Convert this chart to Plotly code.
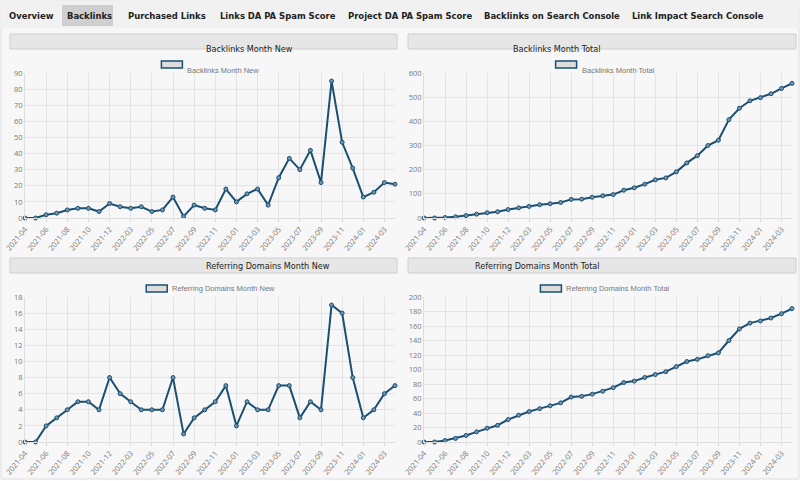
import plotly.graph_objects as go

months = ["2021-04", "2021-05", "2021-06", "2021-07", "2021-08", "2021-09", "2021-10", "2021-11", "2021-12",
          "2022-02", "2022-03", "2022-04", "2022-05", "2022-06", "2022-07", "2022-08", "2022-09", "2022-10",
          "2022-11", "2022-12", "2023-01", "2023-02", "2023-03", "2023-04", "2023-05", "2023-06", "2023-07",
          "2023-08", "2023-09", "2023-10", "2023-11", "2023-12", "2024-01", "2024-02", "2024-03", "2024-04"]
backlinks_new = [0, 0, 2, 3, 5, 6, 6, 4, 9, 7, 6, 7, 4, 5, 13, 1, 8, 6, 5, 18, 10, 15, 18, 8, 25, 37, 30, 42,
                 22, 85, 47, 31, 13, 16, 22, 21]
backlinks_total = [0, 0, 2, 5, 10, 16, 22, 26, 35, 42, 48, 55, 59, 64, 77, 78, 86, 92, 97, 115, 125, 140, 158,
                   166, 191, 228, 258, 300, 322, 407, 454, 485, 498, 514, 536, 557]
domains_new = [0, 0, 2, 3, 4, 5, 5, 4, 8, 6, 5, 4, 4, 4, 8, 1, 3, 4, 5, 7, 2, 5, 4, 4, 7, 7, 3, 5, 4, 17, 16,
               8, 3, 4, 6, 7]
domains_total = [0, 0, 2, 5, 9, 14, 19, 23, 31, 37, 42, 46, 50, 54, 62, 63, 66, 70, 75, 82, 84, 89, 93, 97,
                 104, 111, 114, 119, 123, 140, 156, 164, 167, 171, 177, 184]
tabs = ["Overview", "Backlinks", "Purchased Links", "Links DA PA Spam Score", "Project DA PA Spam Score",
        "Backlinks on Search Console", "Link Impact Search Console"]

W, H = 800, 481
def px(x): return x / W
def py(y): return 1 - y / H

LINE = "#1b4f72"
TABFONT = "DejaVu Sans Condensed, Roboto"
panels = [
    ("Backlinks Month New", backlinks_new, [0, 90], 10, (25, 395), (73, 218), (10, 397), 34),
    ("Backlinks Month Total", backlinks_total, [0, 600], 100, (424, 792), (73, 218), (408, 796), 34),
    ("Referring Domains Month New", domains_new, [0, 18], 2, (25, 395), (297, 442), (10, 397), 258),
    ("Referring Domains Month Total", domains_total, [0, 200], 20, (424, 792), (297, 442), (408, 796), 258),
]

fig = go.Figure()
shapes, annos = [], []
# outer frame
shapes.append(dict(type="rect", xref="paper", yref="paper", x0=px(1), x1=px(799), y0=py(479), y1=py(1),
                   fillcolor="#f7f7f7", line=dict(color="#dcdcdc", width=1), layer="below"))
shapes.append(dict(type="rect", xref="paper", yref="paper", x0=px(1), x1=px(799), y0=py(28), y1=py(1),
                   fillcolor="#f1f1f1", line=dict(width=0), layer="below"))
# tabs
tab_x = [7, 65, 126, 218, 346, 482, 630]
for t, tx in zip(tabs, tab_x):
    if t == "Backlinks":
        shapes.append(dict(type="rect", xref="paper", yref="paper", x0=px(62), x1=px(113), y0=py(26), y1=py(5),
                           fillcolor="#cfcfcf", line=dict(width=0), layer="below"))
    annos.append(dict(x=px(tx), y=py(15), xref="paper", yref="paper", text="<b>" + t + "</b>", showarrow=False,
                      xanchor="left", yanchor="middle", font=dict(family=TABFONT, size=9.4, color="#222")))

for k, (title, vals, rng, dt, (x0, x1), (y0, y1), (bx0, bx1), by) in enumerate(panels):
    n = k + 1
    xa, ya = ("xaxis" if n == 1 else f"xaxis{n}"), ("yaxis" if n == 1 else f"yaxis{n}")
    xr, yr = ("x" if n == 1 else f"x{n}"), ("y" if n == 1 else f"y{n}")
    fig.add_trace(go.Scatter(x=months, y=vals, mode="lines+markers", xaxis=xr, yaxis=yr, showlegend=False,
                             cliponaxis=False, line=dict(color=LINE, width=2),
                             marker=dict(size=4, color="#6f95b3", line=dict(color=LINE, width=1))))
    fig.layout[xa] = dict(domain=[px(x0), px(x1)], anchor=yr, type="category", tickangle=-50,
                          range=[0, len(months) - 1], automargin=False,
                          tickvals=[m for i, m in enumerate(months) if i % 2 == 0],
                          showgrid=True, gridcolor="#e4e4e4", tickfont=dict(size=7.5, color="#777"),
                          linecolor="#ddd", ticks="outside", ticklen=3, tickcolor="#ddd")
    fig.layout[ya] = dict(domain=[py(y1), py(y0)], anchor=xr, range=rng, dtick=dt, gridcolor="#e4e4e4",
                          automargin=False,
                          tickfont=dict(size=7.5, color="#777"), zeroline=False, linecolor="#ddd", showline=True)
    # title bar
    shapes.append(dict(type="rect", xref="paper", yref="paper", x0=px(bx0), x1=px(bx1), y0=py(by + 15), y1=py(by),
                       fillcolor="#e6e6e6", line=dict(color="#d0d0d0", width=1)))
    annos.append(dict(x=px((bx0 + bx1) / 2), y=py(by + 7.5), xref="paper", yref="paper", text=title,
                      showarrow=False, font=dict(family=TABFONT, size=9, color="#222")))
    # legend
    cx = (x0 + x1) / 2
    tw = len(title) * 3.8
    lx = cx - (tw + 25) / 2
    shapes.append(dict(type="rect", xref="paper", yref="paper", x0=px(lx), x1=px(lx + 21), y0=py(by + 34),
                       y1=py(by + 27), fillcolor="#dddddd", line=dict(color=LINE, width=1.5)))
    annos.append(dict(x=px(lx + 24), y=py(by + 30.5), xref="paper", yref="paper", text=title, showarrow=False,
                      xanchor="left", font=dict(family="Arial", size=7.5, color="#777")))

fig.update_layout(width=W, height=H, margin=dict(l=0, r=0, t=0, b=0), paper_bgcolor="white",
                  plot_bgcolor="rgba(0,0,0,0)", shapes=shapes, annotations=annos)
fig.write_html("out.html", config={"displayModeBar": False},
               post_script="document.body.style.margin='0';document.body.style.overflow='hidden';"
                           "var d=document.getElementById('{plot_id}');d.style.position='absolute';"
                           "d.style.left='0px';d.style.top='0px';")
